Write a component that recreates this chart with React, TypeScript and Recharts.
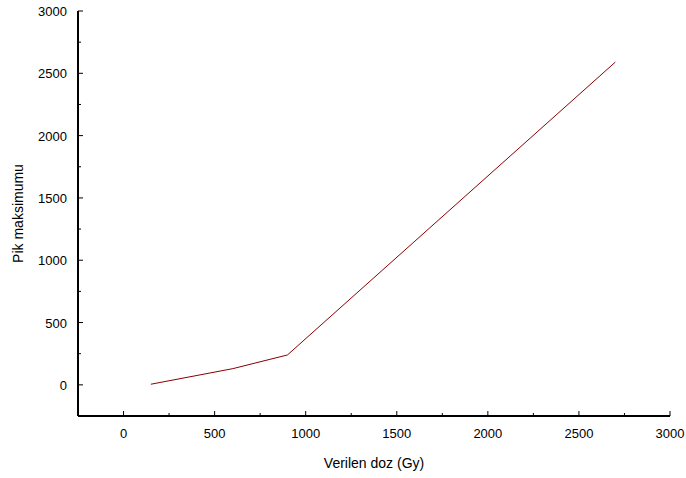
import { LineChart, Line, XAxis, YAxis, Label } from 'recharts';

// Peak maximum against delivered dose
const doseGy = [150, 600, 900, 2700];
const peakMax = [5, 130, 240, 2590];

// every 250 gets a tick, every 500 gets a label
const xTicks = [-250, 0, 250, 500, 750, 1000, 1250, 1500, 1750, 2000, 2250, 2500, 2750, 3000];
const yTicks = [-250, 0, 250, 500, 750, 1000, 1250, 1500, 1750, 2000, 2250, 2500, 2750, 3000];

const chartData = doseGy.map((d, i) => ({ dose: d, peak: peakMax[i] }));

const FONT = '"Liberation Sans", Arial, sans-serif';
const MARGIN = 10;

function XTick(props: any) {
  const { x, y, payload } = props;
  const v = payload.value as number;
  const axisY = y - MARGIN;
  const major = v % 500 === 0;
  return (
    <g>
      {v > -250 && (
        <line x1={x} x2={x} y1={axisY} y2={axisY - (major ? 5 : 3)} stroke="#000" strokeWidth={1} />
      )}
      {major && (
        <text x={x} y={axisY + 22} textAnchor="middle" fontSize={13} fontFamily={FONT} fill="#000">
          {v}
        </text>
      )}
    </g>
  );
}

function YTick(props: any) {
  const { x, y, payload } = props;
  const v = payload.value as number;
  const axisX = x + MARGIN;
  const major = v % 500 === 0;
  return (
    <g>
      {v > -250 && (
        <line x1={axisX} x2={axisX + (major ? 5 : 3)} y1={y} y2={y} stroke="#000" strokeWidth={1} />
      )}
      {major && (
        <text x={axisX - 11} y={y + 5} textAnchor="end" fontSize={13} fontFamily={FONT} fill="#000">
          {v}
        </text>
      )}
    </g>
  );
}

export default function App() {
  return (
    <div style={{ position: 'absolute', left: 0, top: 0, background: '#fff' }}>
      <LineChart width={686} height={478} data={chartData} margin={{ top: 11, right: 16, left: 18, bottom: 22 }}>
        <XAxis
          dataKey="dose"
          type="number"
          domain={[-250, 3000]}
          ticks={xTicks}
          interval={0}
          allowDataOverflow
          height={40}
          tickSize={0}
          tickMargin={MARGIN}
          tickLine={false}
          axisLine={{ stroke: '#000', strokeWidth: 2 }}
          tick={<XTick />}
        >
          <Label
            value="Verilen doz (Gy)"
            position="bottom"
            offset={2}
            style={{ fontSize: 14, fontFamily: FONT, fill: '#000' }}
          />
        </XAxis>
        <YAxis
          type="number"
          domain={[-250, 3000]}
          ticks={yTicks}
          interval={0}
          allowDataOverflow
          width={60}
          tickSize={0}
          tickMargin={MARGIN}
          tickLine={false}
          axisLine={{ stroke: '#000', strokeWidth: 2 }}
          tick={<YTick />}
        >
          <Label
            value="Pik maksimumu"
            angle={-90}
            position="left"
            offset={0}
            style={{ fontSize: 14, fontFamily: FONT, fill: '#000', textAnchor: 'middle' }}
          />
        </YAxis>
        <Line
          type="linear"
          dataKey="peak"
          stroke="#8b0000"
          strokeWidth={1}
          dot={false}
          isAnimationActive={false}
        />
      </LineChart>
    </div>
  );
}
